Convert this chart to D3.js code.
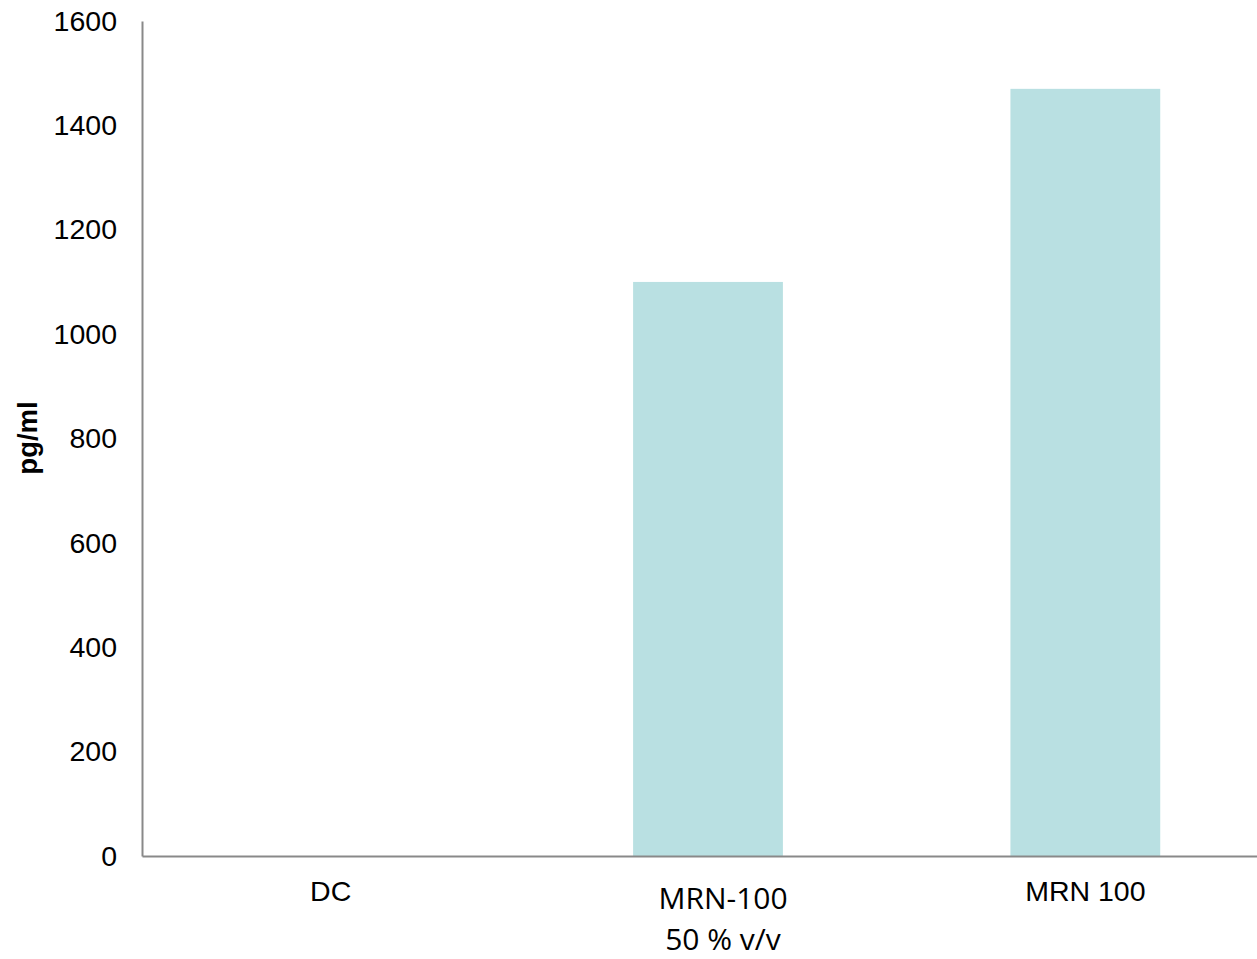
<!DOCTYPE html>
<html>
<head>
<meta charset="utf-8">
<script src="https://cdn.jsdelivr.net/npm/d3@7"></script>
<style>
  html, body { margin: 0; padding: 0; background: #fff; }
  svg { display: block; }
</style>
</head>
<body>
<svg id="chart" width="1257" height="959"></svg>
<script>
// Cytokine level per treatment group
const categories = ["DC", "MRN-100\n50 % v/v", "MRN 100"];
const values = [0, 1100, 1470];
const yTicks = [0, 200, 400, 600, 800, 1000, 1200, 1400, 1600];
const yLabel = "pg/ml";

const svg = d3.select("#chart");
const axisColor = "#898989";
const barColor = "#b9e0e2";

const x = d3.scaleBand()
  .domain(categories)
  .range([142, 1274])
  .paddingInner(0.603)
  .paddingOuter(0.3015);

const y = d3.scaleLinear()
  .domain([0, 1600])
  .range([856, 21]);

// bars
svg.append("g")
  .selectAll("rect")
  .data(categories)
  .join("rect")
  .attr("x", d => x(d))
  .attr("width", x.bandwidth())
  .attr("y", (d, i) => y(values[i]))
  .attr("height", (d, i) => y(0) - y(values[i]))
  .attr("fill", barColor);

// y axis
const yAxis = svg.append("g")
  .attr("transform", "translate(142,0)")
  .call(d3.axisLeft(y).tickValues(yTicks).tickSize(0).tickPadding(25).tickFormat(d3.format("d")));
yAxis.select(".domain").attr("stroke", axisColor).attr("stroke-width", 2);
yAxis.selectAll("text")
  .attr("font-family", "'Liberation Sans', Arial, sans-serif")
  .attr("font-size", 28.5)
  .attr("fill", "#000");

// x axis
const xAxis = svg.append("g")
  .attr("transform", "translate(0,856)")
  .call(d3.axisBottom(x).tickSize(0).tickPadding(0).tickFormat(""));
xAxis.select(".domain").attr("stroke", axisColor).attr("stroke-width", 2);

xAxis.selectAll(".tick").each(function(d) {
  const lines = d.split("\n");
  const multi = lines.length > 1;
  const t = d3.select(this).select("text")
    .attr("y", 0)
    .attr("dy", null)
    .attr("fill", "#000")
    .attr("font-family", multi ? "'Open Sans', sans-serif" : "'Liberation Sans', Arial, sans-serif")
    .attr("font-size", multi ? 30 : 28.5)
    .attr("text-anchor", "middle");
  lines.forEach((ln, i) => {
    t.append("tspan")
      .attr("x", multi ? 15 : 0)
      .attr("y", multi ? 53 + i * 41 : 45)
      .text(ln);
  });
});

// y axis title
svg.append("text")
  .attr("transform", "translate(37,438) rotate(-90)")
  .attr("text-anchor", "middle")
  .attr("font-family", "'Liberation Sans', Arial, sans-serif")
  .attr("font-weight", "bold")
  .attr("font-size", 27.5)
  .attr("fill", "#000")
  .text(yLabel);
</script>
</body>
</html>
